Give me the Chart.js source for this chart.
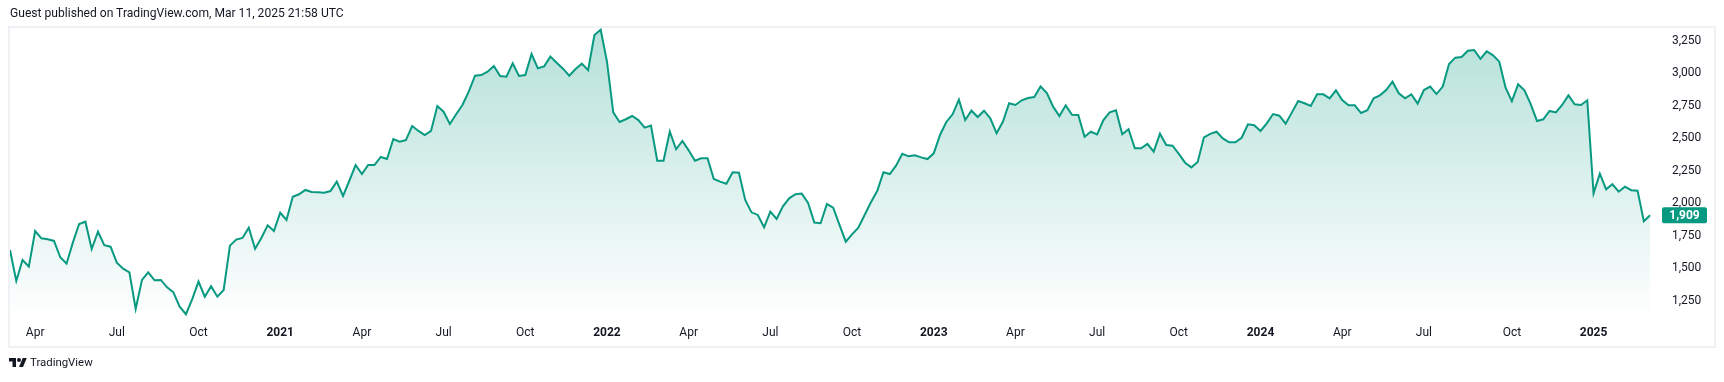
<!DOCTYPE html>
<html><head><meta charset="utf-8">
<script src="https://cdn.jsdelivr.net/npm/chart.js@4.4.1/dist/chart.umd.min.js"></script>
<style>
html,body{margin:0;padding:0;background:#fff;width:1724px;height:382px;overflow:hidden;font-family:Roboto, "Liberation Sans", sans-serif;}
canvas{position:absolute;left:0;top:0;}
#header{position:absolute;left:10px;top:6px;font-size:12.1px;color:#131722;white-space:nowrap;}
#frame{position:absolute;left:8px;top:26px;width:1708px;height:322px;border:2px solid #eff1f4;box-sizing:border-box;pointer-events:none;}
#footer{position:absolute;left:9px;top:355px;font-size:11.4px;color:#131722;display:flex;align-items:center;gap:3px;white-space:nowrap;}
</style></head>
<body>
<canvas id="c" width="1724" height="382"></canvas>
<div id="frame"></div>
<div id="header">Guest published on TradingView.com, Mar 11, 2025 21:58 UTC</div>
<div id="footer"><svg width="18" height="9" viewBox="0 4 36 18"><path d="M14 22H7V11H0V4h14v18z" fill="#131722"/><circle cx="20" cy="8" r="4" fill="#131722"/><path d="M28 22h-8l7.5-18h8L28 22z" fill="#131722"/></svg><span>TradingView</span></div>
<script>
// First weekly bar (Monday) of the series
const startWeek = '2020-03-09';

const values2020 = [1642,1404,1565,1514,1788,1732,1725,1712,1586,1537,1699,1842,1860,1650,1783,1679,1668,1545,1499,1471,1189,1412,1471,1409,1412,1355,1317,1206,1148,1265,1399,1283,1363,1283,1335,1676,1722,1735,1814,1652,1735,1832,1788];
const values2021 = [1929,1873,2052,2071,2104,2088,2086,2083,2096,2168,2058,2175,2296,2227,2296,2296,2358,2342,2496,2475,2488,2596,2558,2527,2558,2750,2706,2612,2686,2758,2860,2983,2988,3014,3058,2981,2975,3078,2981,2988,3150,3040,3055,3130,3083,3037,2983,3035,3076,3025,3296,3337];
const values2022 = [3091,2701,2627,2648,2673,2642,2583,2599,2329,2329,2552,2417,2481,2409,2329,2348,2348,2189,2168,2152,2240,2237,2027,1932,1912,1817,1937,1881,1978,2040,2071,2076,2004,1853,1848,1996,1968,1835,1706,1763,1814,1912,2009,2096,2240,2227,2291,2383,2363,2371,2355,2342];
const values2023 = [2386,2527,2627,2686,2799,2642,2714,2665,2714,2655,2540,2629,2771,2758,2794,2812,2819,2901,2850,2745,2673,2755,2683,2681,2514,2552,2532,2642,2701,2717,2532,2571,2425,2425,2458,2399,2537,2450,2445,2381,2314,2278,2319,2509,2536,2552,2501,2471,2471,2506,2609,2602];
const values2024 = [2558,2617,2688,2675,2614,2701,2788,2771,2750,2840,2840,2809,2871,2796,2755,2755,2696,2717,2809,2832,2873,2937,2848,2809,2840,2768,2873,2899,2842,2899,3073,3122,3127,3175,3181,3112,3171,3140,3091,2891,2788,2917,2871,2765,2635,2648,2712,2701,2758,2832,2763,2758,2794];
const values2025 = [2078,2230,2109,2148,2091,2130,2102,2099,1863,1909];

const yTickValues = [1250,1500,1750,2000,2250,2500,2750,3000,3250];
const tickMonths = ['2020-04','2020-07','2020-10','2021-01','2021-04','2021-07','2021-10','2022-01','2022-04','2022-07','2022-10','2023-01','2023-04','2023-07','2023-10','2024-01','2024-04','2024-07','2024-10','2025-01'];
const tickLabels = ['Apr','Jul','Oct','2021','Apr','Jul','Oct','2022','Apr','Jul','Oct','2023','Apr','Jul','Oct','2024','Apr','Jul','Oct','2025'];

const values = [].concat(values2020, values2021, values2022, values2023, values2024, values2025);
const weekDates = values.map((_, i) => { const d = new Date(startWeek + 'T00:00:00Z'); d.setUTCDate(d.getUTCDate() + 7 * i); return d; });
const points = values.map((v, i) => ({ x: i, y: v }));
const tickIdx = tickMonths.map(m => {
  const [yy, mm] = m.split('-').map(Number);
  return weekDates.findIndex(d => d.getUTCFullYear() === yy && d.getUTCMonth() === mm - 1);
});
const lastValue = values[values.length - 1];
const FONT = 'Roboto, "Liberation Sans", sans-serif';
const GREEN = '#089981';

const lastPricePlugin = {
  id: 'lastPrice',
  afterDraw(chart) {
    const ctx = chart.ctx;
    const y = chart.scales.y.getPixelForValue(lastValue);
    const x0 = chart.chartArea.right + 10, w = 45, h = 16;
    ctx.save();
    ctx.fillStyle = GREEN;
    ctx.beginPath();
    if (ctx.roundRect) ctx.roundRect(x0, y - h / 2, w, h, 2); else ctx.rect(x0, y - h / 2, w, h);
    ctx.fill();
    ctx.fillStyle = '#ffffff';
    ctx.font = 'bold 12px ' + FONT;
    ctx.textAlign = 'center';
    ctx.textBaseline = 'middle';
    ctx.fillText(lastValue.toLocaleString('en-US'), x0 + w / 2, y + 0.5);
    ctx.restore();
  }
};

new Chart(document.getElementById('c'), {
  type: 'line',
  data: {
    datasets: [{
      data: points,
      borderColor: GREEN,
      borderWidth: 2,
      pointRadius: 0,
      tension: 0,
      fill: 'start',
      backgroundColor: (c) => {
        const a = c.chart.chartArea;
        if (!a) return 'rgba(8,153,129,0.2)';
        const g = c.chart.ctx.createLinearGradient(0, a.top, 0, a.bottom);
        g.addColorStop(0, 'rgba(8,153,129,0.30)');
        g.addColorStop(1, 'rgba(8,153,129,0.0)');
        return g;
      }
    }]
  },
  options: {
    responsive: false,
    animation: false,
    devicePixelRatio: 1,
    layout: { padding: { left: 10, top: 28, right: 10, bottom: 35 } },
    plugins: { legend: { display: false }, tooltip: { enabled: false } },
    scales: {
      x: {
        type: 'linear', min: 0, max: 261.3,
        grid: { display: false, drawTicks: false }, border: { display: false },
        afterBuildTicks: s => { s.ticks = tickIdx.map(v => ({ value: v })); },
        afterFit: s => { s.height = 28; },
        ticks: {
          autoSkip: false, maxRotation: 0, padding: 7, color: '#131722',
          callback: (v) => { const k = tickIdx.indexOf(v); return k >= 0 ? tickLabels[k] : ''; },
          font: (c) => {
            const k = c.tick ? tickIdx.indexOf(c.tick.value) : -1;
            const lbl = k >= 0 ? tickLabels[k] : '';
            return { family: FONT, size: 12, weight: /^\d{4}$/.test(lbl) ? 'bold' : 'normal' };
          }
        }
      },
      y: {
        position: 'right', min: 1111.5, max: 3350,
        grid: { display: false, drawTicks: false }, border: { display: false },
        afterBuildTicks: s => { s.ticks = yTickValues.map(v => ({ value: v })); },
        afterFit: s => { s.width = 62; },
        ticks: {
          padding: 20, crossAlign: 'near', color: '#131722',
          font: { family: FONT, size: 12 },
          callback: v => v.toLocaleString('en-US')
        }
      }
    }
  },
  plugins: [lastPricePlugin]
});
</script>
</body></html>
